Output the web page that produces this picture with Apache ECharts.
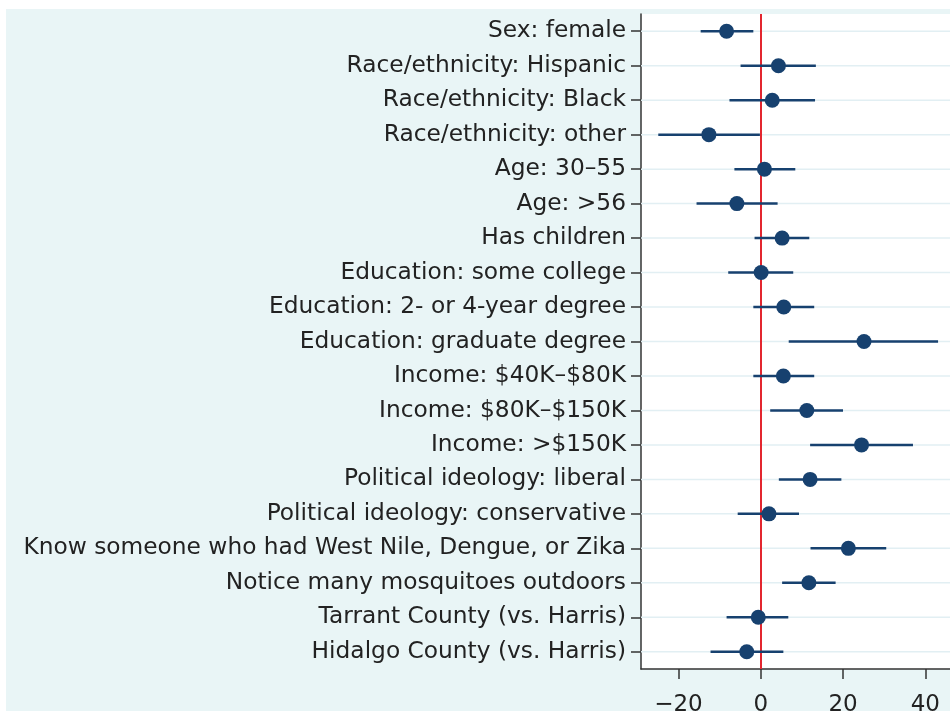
<!DOCTYPE html>
<html>
<head>
<meta charset="utf-8">
<script src="https://cdn.jsdelivr.net/npm/echarts@6/dist/echarts.min.js"></script>
<style>
  html, body { margin: 0; padding: 0; background: #fff; }
  #panel {
    position: absolute; left: 6px; top: 9px;
    width: 944px; height: 702px;
    background: #e9f5f6;
  }
  #chart { width: 100%; height: 100%; }
</style>
</head>
<body>
<div id="panel"><div id="chart"></div></div>
<script>
// predictors, top to bottom
const categories = [
  'Sex: female',
  'Race/ethnicity: Hispanic',
  'Race/ethnicity: Black',
  'Race/ethnicity: other',
  'Age: 30–55',
  'Age: >56',
  'Has children',
  'Education: some college',
  'Education: 2- or 4-year degree',
  'Education: graduate degree',
  'Income: $40K–$80K',
  'Income: $80K–$150K',
  'Income: >$150K',
  'Political ideology: liberal',
  'Political ideology: conservative',
  'Know someone who had West Nile, Dengue, or Zika',
  'Notice many mosquitoes outdoors',
  'Tarrant County (vs. Harris)',
  'Hidalgo County (vs. Harris)',
]
// point estimates and interval bounds
const estimates = [-8.3, 4.3, 2.8, -12.6, 0.9, -5.8, 5.2, 0.1, 5.6, 25.1, 5.5, 11.2, 24.5, 12.0, 2.0, 21.3, 11.7, -0.6, -3.4]
const lower = [-14.6, -4.9, -7.6, -24.9, -6.4, -15.6, -1.5, -7.9, -1.8, 6.8, -1.8, 2.3, 12.0, 4.4, -5.6, 12.1, 5.2, -8.3, -12.2]
const upper = [-1.8, 13.4, 13.2, -0.2, 8.4, 4.1, 11.8, 7.9, 13.0, 43.1, 13.0, 20.0, 37.0, 19.6, 9.3, 30.5, 18.2, 6.7, 5.5]
const xTicks = [-20, 0, 20, 40]

const navy = '#17416f'
const chart = echarts.init(document.getElementById('chart'))

chart.setOption({
  animation: false,
  textStyle: { fontFamily: 'DejaVu Sans, sans-serif' },
  grid: {
    left: 635, right: 0, top: 5, bottom: 42,
    outerBoundsMode: 'none',
    show: true, backgroundColor: '#fff', borderWidth: 0,
  },
  xAxis: {
    type: 'value',
    min: -29.1,
    max: 46,
    splitLine: { show: false },
    axisLine: { show: true, onZero: false, lineStyle: { color: '#333', width: 1.5 } },
    axisTick: { show: true, length: 10, customValues: xTicks, lineStyle: { color: '#333', width: 1.5 } },
    axisLabel: {
      customValues: xTicks,
      fontSize: 23,
      color: '#222',
      margin: 25,
      formatter: (v) => String(v).replace('-', '−'),
    },
  },
  yAxis: {
    type: 'category',
    data: categories,
    inverse: true,
    axisLine: { show: true, onZero: false, lineStyle: { color: '#333', width: 1.5 } },
    axisTick: { show: true, alignWithLabel: true, length: 10, lineStyle: { color: '#333', width: 1.5 } },
    axisLabel: { fontSize: 23.3, color: '#222', margin: 15 },
    splitLine: { show: false },
  },
  series: [
    {
      // light row lines through each category centre
      type: 'custom',
      data: categories.map((c, i) => [i]),
      renderItem: (params, api) => {
        const p = api.coord([0, api.value(0)])
        const cs = params.coordSys
        return {
          type: 'line',
          shape: { x1: cs.x, y1: p[1], x2: cs.x + cs.width, y2: p[1] },
          style: { stroke: '#e2eff3', lineWidth: 1.5 },
        }
      },
      encode: { y: 0 },
      silent: true,
      z: 1,
    },
    {
      // confidence intervals
      type: 'custom',
      data: categories.map((c, i) => [i, lower[i], upper[i]]),
      renderItem: (params, api) => {
        const a = api.coord([api.value(1), api.value(0)])
        const b = api.coord([api.value(2), api.value(0)])
        return {
          type: 'line',
          shape: { x1: a[0], y1: a[1], x2: b[0], y2: b[1] },
          style: { stroke: navy, lineWidth: 2.5 },
        }
      },
      encode: { x: [1, 2], y: 0 },
      z: 3,
    },
    {
      type: 'scatter',
      data: categories.map((c, i) => [estimates[i], i]),
      symbolSize: 15,
      itemStyle: { color: navy, opacity: 1 },
      z: 5,
      markLine: {
        silent: true,
        symbol: 'none',
        label: { show: false },
        lineStyle: { color: '#e3262f', width: 2, type: 'solid' },
        data: [{ xAxis: 0 }],
        z: 2,
      },
    },
  ],
})
</script>
</body>
</html>
